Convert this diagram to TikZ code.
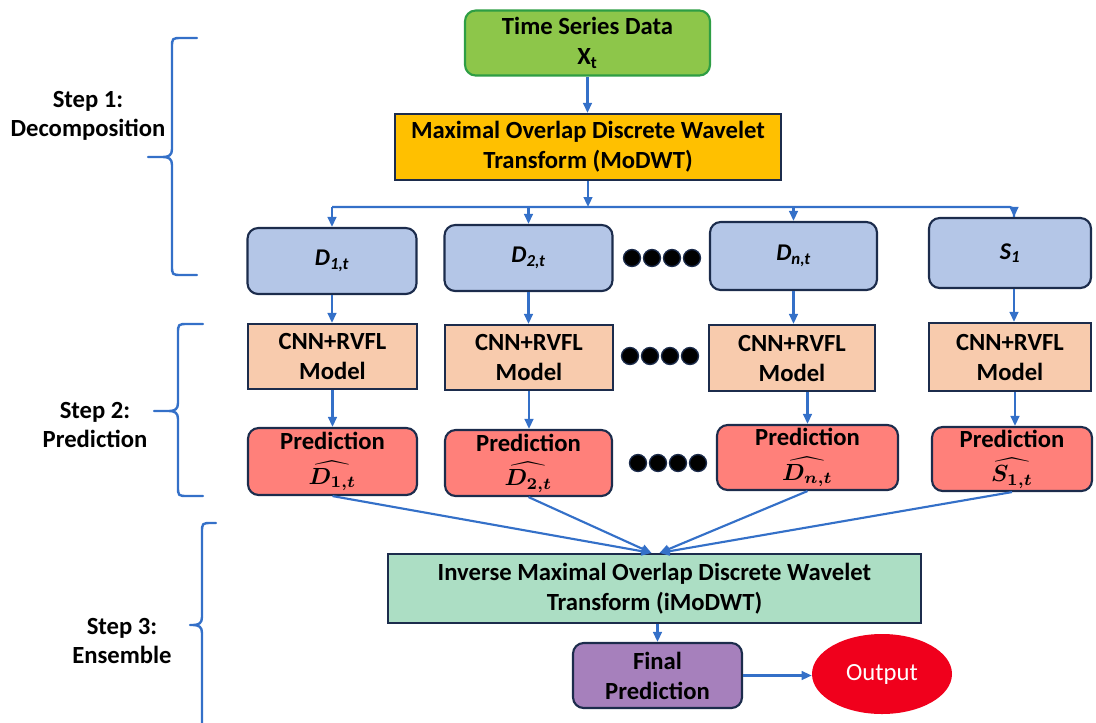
\documentclass[tikz,border=0pt]{standalone}
\usepackage{graphicx}
\usepackage{fontspec}
\setmainfont{Carlito}
\usetikzlibrary{arrows.meta,calc,shapes.geometric}

\definecolor{navy}{RGB}{28,44,76}
\definecolor{flowblue}{RGB}{52,112,200}
\definecolor{tsgreen}{RGB}{141,198,74}
\definecolor{tsborder}{RGB}{46,158,68}
\definecolor{modgold}{RGB}{255,192,0}
\definecolor{compblue}{RGB}{180,198,231}
\definecolor{modelpeach}{RGB}{248,203,173}
\definecolor{predsalmon}{RGB}{255,128,122}
\definecolor{invmint}{RGB}{172,222,196}
\definecolor{finalpurple}{RGB}{166,128,188}
\definecolor{outred}{RGB}{240,0,28}

% left-hand stage brace: vertical x, right x, tip x, top y, tip y, bottom y
\newcommand{\stagebrace}[6]{%
  \draw[brc] (#2,#4) -- ({#1+10},#4) .. controls (#1,#4) and (#1,#4) .. (#1,{#4+10})
    -- (#1,{#5-8}) .. controls (#1,{#5-2}) and ({#1-3},#5) .. ({#1-9},#5) -- (#3,#5)
    -- ({#1-9},#5) .. controls ({#1-3},#5) and (#1,{#5+2}) .. (#1,{#5+8})
    -- (#1,{#6-10}) .. controls (#1,#6) and (#1,#6) .. ({#1+10},#6) -- (#2,#6);}

% hatted estimate in the prediction boxes
\newcommand{\est}[1]{\scalebox{1.75}{\normalsize\boldmath$\widehat{#1}$}}

\begin{document}
\begin{tikzpicture}[x=0.75pt,y=-0.75pt,
  conn/.style={draw=flowblue, line width=1.6pt},
  arr/.style={conn, -{Triangle[length=7.5pt,width=6.5pt]}},
  brc/.style={draw=flowblue, line width=1.8pt, line cap=round, line join=round},
  box/.style={draw=navy, line width=1.6pt, align=center, inner sep=0pt,
    font=\fontsize{18.5}{22.5}\selectfont\bfseries, text=black},
  wh/.style 2 args={minimum width=#1*0.75pt, minimum height=#2*0.75pt},
  rbox/.style={rounded corners=8pt},
  comp/.style={box, rbox, fill=compblue, font=\fontsize{18}{20}\selectfont\bfseries\itshape},
  model/.style={box, fill=modelpeach},
  pred/.style={box, rbox, fill=predsalmon, font=\fontsize{18.5}{22}\selectfont\bfseries},
  dotn/.style={circle, fill=black, draw=navy, line width=1pt, minimum size=17*0.75pt, inner sep=0pt},
  steplabel/.style={align=center, font=\fontsize{18.5}{21.5}\selectfont\bfseries, text=black}
]
\useasboundingbox (0,0) rectangle (1096,722);
\clip (0,0) rectangle (1096,722);

% input and decomposition
\node[box, rbox, fill=tsgreen, draw=tsborder, wh={245}{65}] (ts) at (587.5,43)
  {Time Series Data\\X\textsubscript{t}};
\node[box, fill=modgold, wh={386}{66}] (mod) at (588,147)
  {Maximal Overlap Discrete Wavelet\\Transform (MoDWT)};

% components
\node[comp, wh={169}{66}] (d1) at (332,261) {D\textsubscript{1,t}};
\node[comp, wh={168}{66}] (d2) at (528.5,258) {D\textsubscript{2,t}};
\node[comp, wh={167}{68}] (dn) at (793.5,256) {D\textsubscript{n,t}};
\node[comp, wh={162}{70}] (s1) at (1010,253) {S\textsubscript{1}};

% models
\node[model, wh={169}{65}] (c1) at (332.5,356.5) {CNN+RVFL\\Model};
\node[model, wh={168}{65}] (c2) at (529,357.5) {CNN+RVFL\\Model};
\node[model, wh={166}{66}] (cn) at (792,358) {CNN+RVFL\\Model};
\node[model, wh={162}{68}] (cs) at (1010,357) {CNN+RVFL\\Model};

% predictions
\node[pred, wh={169}{67}] (p1) at (332.5,461.5) {Prediction\\[4pt]\est{D_{1,t}}};
\node[pred, wh={167}{66}] (p2) at (528.5,463) {Prediction\\[4pt]\est{D_{2,t}}};
\node[pred, wh={181}{65}] (pn) at (807.5,457.5) {Prediction\\[4pt]\est{D_{n,t}}};
\node[pred, wh={160}{64}] (ps) at (1012,459) {Prediction\\[4pt]\est{S_{1,t}}};

% ellipsis dots between columns
\foreach \i/\x in {1/632,2/652,3/672,4/692} \node[dotn] (da\i) at (\x,258) {};
\foreach \i/\x in {1/630,2/650,3/670,4/690} \node[dotn] (db\i) at (\x,356) {};
\foreach \i/\x in {1/638,2/658,3/678,4/698} \node[dotn] (dc\i) at (\x,463) {};

% reconstruction and output
\node[box, fill=invmint, wh={533}{69}] (imod) at (654.5,588.5)
  {Inverse Maximal Overlap Discrete Wavelet\\Transform (iMoDWT)};
\node[box, rbox, fill=finalpurple, wh={169}{65}] (final) at (657.5,675.5)
  {Final\\Prediction};
\node[ellipse, fill=outred, minimum width=140*0.75pt, minimum height=80*0.75pt, inner sep=0pt,
  text=white, font=\fontsize{18.5}{22}\selectfont] (out) at (882,674) {Output};

% decomposition fan-out
\coordinate (split) at (588,207);
\draw[arr] (ts.south) -- (ts.south |- mod.north);
\draw[arr] (mod.south) -- (split);
\draw[conn, rounded corners=3pt] (d1.north |- split) -- ($(s1.north |- split)+(4,0)$) -- ($(s1.north)+(4,0)$);
\draw[arr] (d1.north |- split) -- (d1.north);
\draw[arr] (d2.north |- split) -- (d2.north);
\draw[arr] (dn.north |- split) -- (dn.north);
\draw[arr] ($(s1.north |- split)+(4,3)$) -- ($(s1.north)+(4,0)$);

% component -> model -> prediction
\draw[arr] (d1.south) -- (d1.south |- c1.north);
\draw[arr] (d2.south) -- (d2.south |- c2.north);
\draw[arr] (dn.south) -- (dn.south |- cn.north);
\draw[arr] ($(s1.south)+(4,0)$) -- ($(s1.south |- cs.north)+(4,0)$);
\draw[arr] (c1.south) -- (c1.south |- p1.north);
\draw[arr] (c2.south) -- (c2.south |- p2.north);
\draw[arr] (pn.north |- cn.south) -- (pn.north);
\draw[arr] ($(cs.south)+(5,0)$) -- ($(cs.south |- ps.north)+(5,0)$);

% predictions converge on the inverse transform
\coordinate (inL) at ($(imod.north)+(-3,0)$);
\coordinate (inR) at ($(imod.north)+(5,0)$);
\draw[arr] (p1.south) -- (inL);
\draw[arr] (p2.south) -- (inL);
\draw[arr] (pn.south) -- (inR);
\draw[arr] (ps.south) -- (inR);

\draw[arr] (final.north |- imod.south) -- (final.north);
\draw[arr] (final.east) -- (final.east -| out.west);

% stage labels and braces
\node[steplabel] (st1) at (88,116) {Step 1:\\Decomposition};
\node[steplabel] (st2) at (95,425) {Step 2:\\Prediction};
\node[steplabel] (st3) at (122,641) {Step 3:\\Ensemble};
\stagebrace{172}{197}{148}{38}{157}{275}
\stagebrace{178}{203}{154}{324}{411}{496}
\stagebrace{202}{216}{190}{523}{625}{760}
\end{tikzpicture}
\end{document}
